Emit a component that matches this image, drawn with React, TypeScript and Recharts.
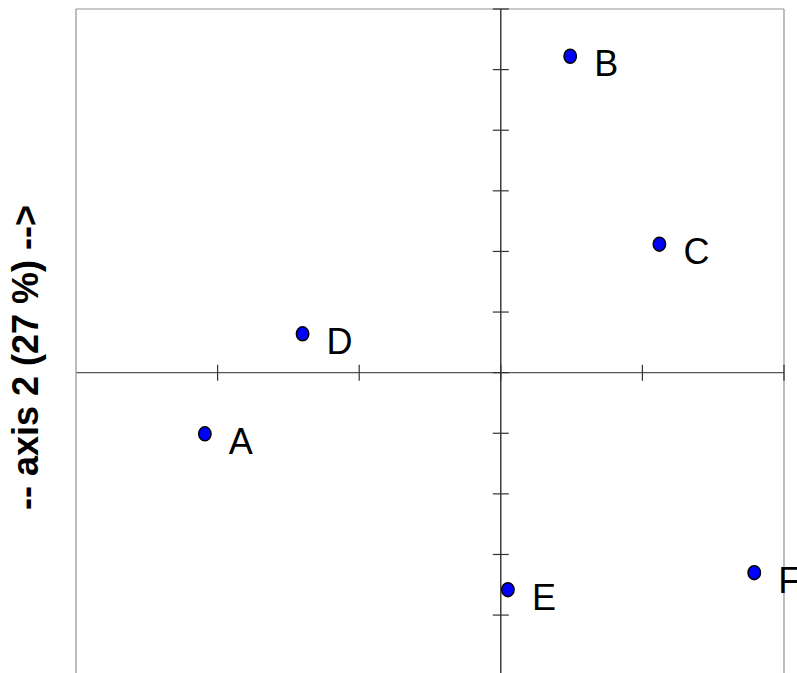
import React from 'react';
import { ScatterChart, Scatter, XAxis, YAxis, ReferenceLine } from 'recharts';

// point coordinates (axis 1 horizontal, axis 2 vertical)
const pointNames = ['A', 'B', 'C', 'D', 'E', 'F'];
const axis1Values = [-2.09, 0.49, 1.12, -1.4, 0.05, 1.79];
const axis2Values = [-1.01, 5.22, 2.12, 0.64, -3.58, -3.3];

// tick marks drawn along the axes crossing at the origin
const axis1Ticks = [-2, -1, 0, 1, 2];
const axis2Ticks = [-5, -4, -3, -2, -1, 0, 1, 2, 3, 4, 5, 6];

const axis1Domain = [-3, 2];
const axis2Domain = [-5.5, 6];
const axis2Title = '-- axis 2 (27 %) -->';

const FONT = '"Liberation Sans", Arial, sans-serif';

const points = pointNames.map((name, i) => ({ name, x: axis1Values[i], y: axis2Values[i] }));
const xTickMarks = axis1Ticks.map((v) => ({ x: v, y: 0 }));
const yTickMarks = axis2Ticks.map((v) => ({ x: 0, y: v }));

// dot with its letter to the right
const PointShape = (props: any) => {
  const { cx, cy, payload } = props;
  return (
    <g>
      <ellipse cx={cx} cy={cy} rx={6.2} ry={7} fill="#0000ff" stroke="#000" strokeWidth={1.5} />
      <text x={cx + 24} y={cy + 20} fontSize={36} fontFamily={FONT} fill="#000">
        {payload.name}
      </text>
    </g>
  );
};

const VerticalTick = (props: any) => {
  const { cx, cy } = props;
  return <line x1={cx} y1={cy - 8} x2={cx} y2={cy + 8} stroke="#333" strokeWidth={1.2} />;
};

const HorizontalTick = (props: any) => {
  const { cx, cy } = props;
  return <line x1={cx - 8} y1={cy} x2={cx + 8} y2={cy} stroke="#333" strokeWidth={1.2} />;
};

const AxisTitle = (props: any) => {
  const vb = props.viewBox;
  const x = vb.x + 38;
  const y = vb.y + vb.height / 2;
  return (
    <text
      x={x}
      y={y}
      transform={`rotate(-90, ${x}, ${y})`}
      textAnchor="middle"
      fontSize={36}
      fontWeight="bold"
      fontFamily={FONT}
      fill="#000"
    >
      {axis2Title}
    </text>
  );
};

export default function App() {
  return (
    <div style={{ position: 'absolute', left: 0, top: 0, width: 797, height: 673, overflow: 'hidden', background: '#fff' }}>
      <ScatterChart width={797} height={760} margin={{ top: 9, right: 13, bottom: 54, left: 0 }}>
        <XAxis type="number" dataKey="x" domain={axis1Domain} hide />
        <YAxis
          type="number"
          dataKey="y"
          domain={axis2Domain}
          width={76}
          tick={false}
          tickLine={false}
          axisLine={{ stroke: '#999', strokeWidth: 1.3 }}
          label={{ content: AxisTitle }}
        />
        <ReferenceLine y={6} stroke="#c8c8c8" strokeWidth={2} />
        <ReferenceLine x={2} stroke="#999" strokeWidth={1.3} />
        <ReferenceLine x={0} stroke="#222" strokeWidth={1.3} />
        <ReferenceLine y={0} stroke="#555" strokeWidth={1.3} />
        <Scatter data={xTickMarks} shape={VerticalTick} isAnimationActive={false} />
        <Scatter data={yTickMarks} shape={HorizontalTick} isAnimationActive={false} />
        <Scatter data={points} shape={PointShape} isAnimationActive={false} />
      </ScatterChart>
    </div>
  );
}
